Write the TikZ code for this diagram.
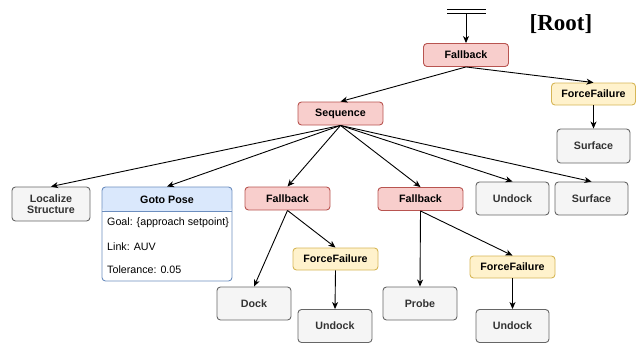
\documentclass[tikz,border=0pt]{standalone}
\usepackage{fontspec}
\setmainfont{Liberation Sans}
\newfontfamily\rootfont{Liberation Serif}
\usetikzlibrary{arrows.meta}
\definecolor{redfill}{HTML}{F8CECC}
\definecolor{redline}{HTML}{B85450}
\definecolor{yelfill}{HTML}{FFF2CC}
\definecolor{yelline}{HTML}{D6B656}
\definecolor{grayfill}{HTML}{F5F5F5}
\definecolor{grayline}{HTML}{666666}
\definecolor{graytext}{HTML}{333333}
\definecolor{bluefill}{HTML}{DAE8FC}
\definecolor{blueline}{HTML}{6C8EBF}
\tikzset{
  box/.style={rectangle, rounded corners=3.5pt, line width=0.9pt, inner sep=0pt, align=center,
    font=\fontsize{10.7}{12.5}\selectfont\bfseries},
  redbox/.style={box, fill=redfill, draw=redline, minimum width=85pt, minimum height=23pt},
  yelbox/.style={box, fill=yelfill, draw=yelline, minimum width=85pt, minimum height=22pt},
  graybox/.style={box, fill=grayfill, draw=grayline, text=graytext, minimum width=74pt, minimum height=33pt},
  edge/.style={line width=0.9pt, -{Stealth[length=7pt,width=6pt,inset=2pt]}},
  bodytext/.style={anchor=west, inner sep=0pt, font=\fontsize{10.7}{12.5}\selectfont},
}
\begin{document}
\begin{tikzpicture}[x=1pt,y=-1pt]
\useasboundingbox (0,0) rectangle (636,343);
% root bar
\draw[line width=0.9pt] (447,9) -- (486,9);
\draw[line width=0.9pt] (447,13) -- (486,13);
\coordinate (rootbar) at (466,13);
\node[inner sep=0pt, font=\rootfont\fontsize{23}{25}\selectfont\bfseries] (roottext) at (561,24) {[Root]};

\node[redbox] (fb0) at (466,55) {Fallback};
\node[yelbox, minimum width=84pt] (ff0) at (593.5,94) {ForceFailure};
\node[graybox, minimum width=73pt, minimum height=34pt] (surf0) at (593.5,146) {Surface};
\node[redbox] (seq) at (340.5,113.5) {Sequence};

\node[graybox, minimum width=78pt, minimum height=34pt] (loc) at (51,204) {Localize\\[-1pt]Structure};
\node[box, fill=white, draw=blueline, minimum width=130pt, minimum height=94pt,
  path picture={\fill[bluefill] (path picture bounding box.north west) rectangle ([yshift=-24pt]path picture bounding box.north east);
  \draw[blueline, line width=0.9pt] ([yshift=-24pt]path picture bounding box.north west) -- ([yshift=-24pt]path picture bounding box.north east);}]
  (goto) at (167,234) {};
\node[inner sep=0pt, font=\fontsize{10.7}{12.5}\selectfont\bfseries] (gototitle) at (167,200) {Goto Pose};
\node[bodytext] (goal) at (107,223) {Goal: \{approach setpoint\}};
\node[bodytext] (link) at (107,247) {Link: AUV};
\node[bodytext] (tol) at (107,270) {Tolerance: 0.05};

\node[redbox] (fb2) at (287.5,198.5) {Fallback};
\node[redbox] (fb3) at (420.5,199) {Fallback};
\node[graybox, minimum width=73pt] (und1) at (512.5,198.5) {Undock};
\node[graybox, minimum width=73pt] (surf1) at (591.5,198.5) {Surface};

\node[yelbox] (ff2) at (335.5,259) {ForceFailure};
\node[yelbox] (ff3) at (512.5,267) {ForceFailure};

\node[graybox] (dock) at (254,303.5) {Dock};
\node[graybox] (und2) at (335,326) {Undock};
\node[graybox] (probe) at (420,303.5) {Probe};
\node[graybox, minimum width=73pt] (und3) at (512.5,326) {Undock};

\draw[edge] (rootbar) -- (fb0.north);
\draw[edge] (fb0.south) -- (seq.north);
\draw[edge] (fb0.south) -- (ff0.north);
\draw[edge] (ff0.south) -- (surf0.north);
\draw[edge] (seq.south) -- (loc.north);
\draw[edge] (seq.south) -- (goto.north);
\draw[edge] (seq.south) -- (fb2.north);
\draw[edge] (seq.south) -- (fb3.north);
\draw[edge] (seq.south) -- (und1.north);
\draw[edge] (seq.south) -- (surf1.north);
\draw[edge] (fb2.south) -- (dock.north);
\draw[edge] (fb2.south) -- (ff2.north);
\draw[edge] (ff2.south) -- (und2.north);
\draw[edge] (fb3.south) -- (probe.north);
\draw[edge] (fb3.south) -- (ff3.north);
\draw[edge] (ff3.south) -- (und3.north);
\end{tikzpicture}
\end{document}
